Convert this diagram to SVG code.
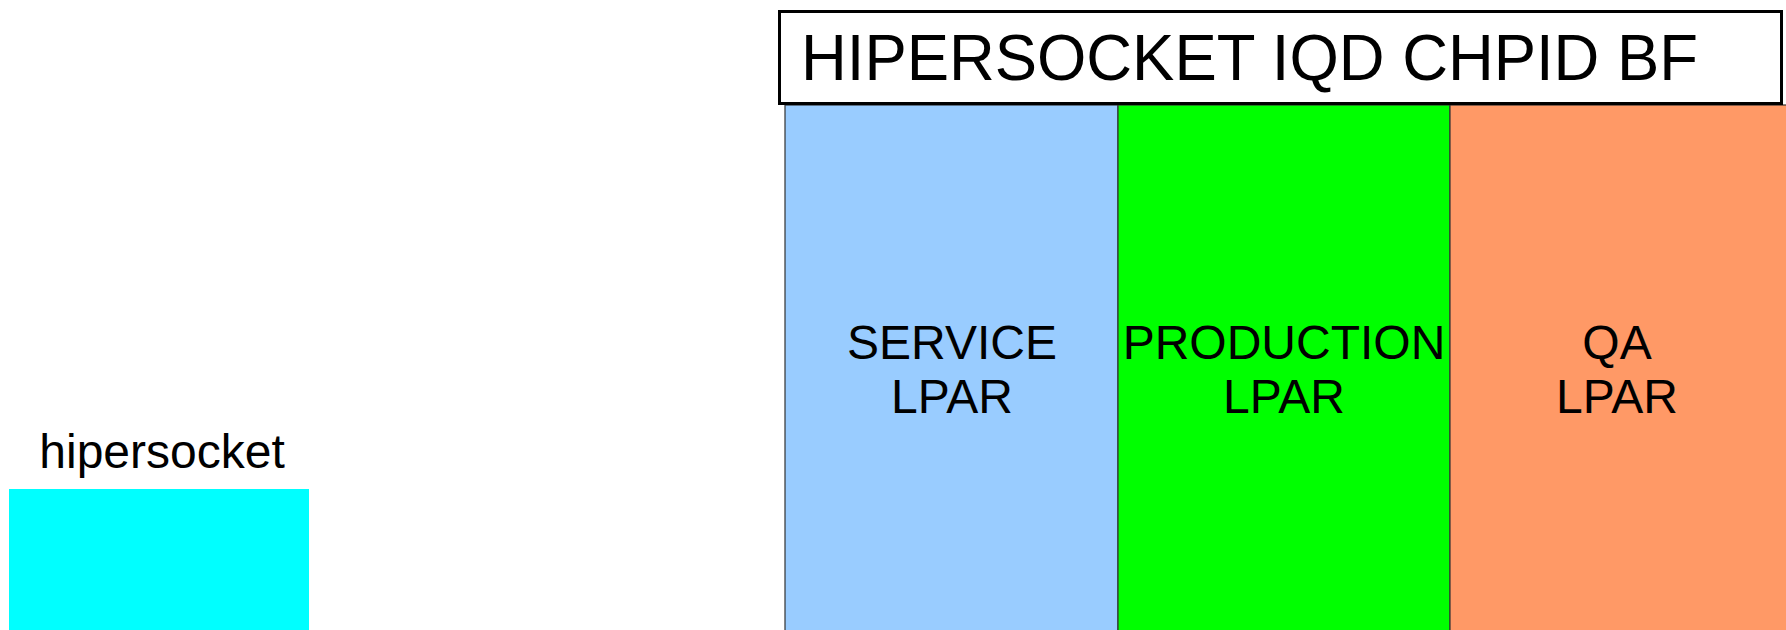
<svg xmlns="http://www.w3.org/2000/svg" width="1786" height="630" viewBox="0 0 1786 630">
<style>
text{font-family:"Liberation Sans",Arial,sans-serif;fill:#000}
.lbl{font-size:48px;text-anchor:middle}
.col{stroke:#333;stroke-width:1.2}
</style>
<rect width="1786" height="630" fill="#fff"/>
<g id="hipersocket">
<text class="lbl" x="162" y="468">hipersocket</text>
<rect x="9" y="489" width="300" height="141" fill="#00ffff"/>
</g>
<g id="service">
<rect class="col" x="785" y="105" width="333" height="530" fill="#99ccff"/>
<text class="lbl" x="952" y="359">SERVICE</text>
<text class="lbl" x="952" y="413">LPAR</text>
</g>
<g id="production">
<rect class="col" x="1118" y="105" width="332" height="530" fill="#00ff00"/>
<text class="lbl" x="1284" y="359">PRODUCTION</text>
<text class="lbl" x="1284" y="413">LPAR</text>
</g>
<g id="qa">
<rect class="col" x="1450" y="105" width="340" height="530" fill="#ff9966"/>
<text class="lbl" x="1617" y="359">QA</text>
<text class="lbl" x="1617" y="413">LPAR</text>
</g>
<g id="title">
<rect x="779.5" y="11.5" width="1002" height="92" fill="#fff" stroke="#000" stroke-width="3"/>
<text x="801" y="80" font-size="65" textLength="897" lengthAdjust="spacingAndGlyphs">HIPERSOCKET IQD CHPID BF</text>
</g>
<g id="connectors"/>
</svg>
